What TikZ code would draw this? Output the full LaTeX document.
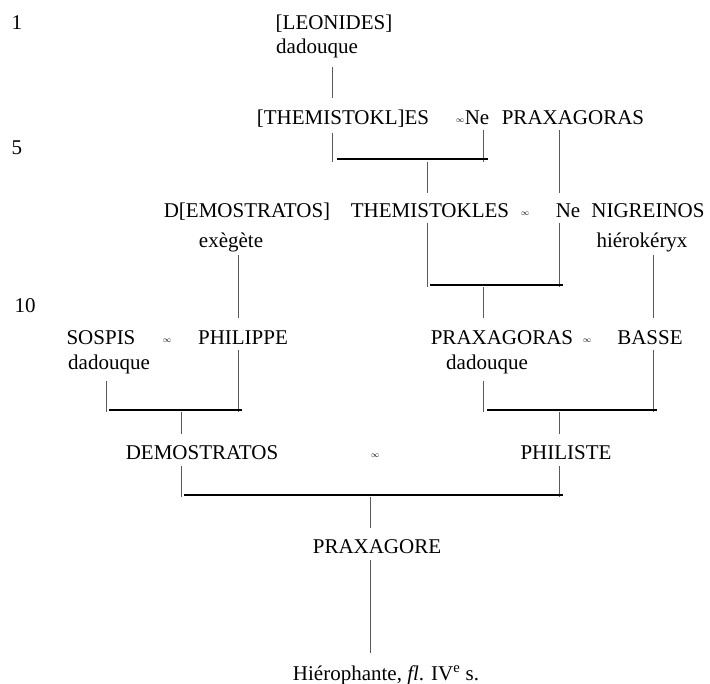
\documentclass[tikz,border=0pt]{standalone}
\usepackage{fontspec}
\setmainfont{Liberation Serif}
\begin{document}
\begin{tikzpicture}[x=1pt,y=-1pt,
  lbl/.style={anchor=base,inner sep=0pt,font=\fontsize{21}{25}\selectfont},
  mar/.style={anchor=base,inner sep=0pt,font=\fontsize{8}{10}\selectfont},
  thin/.style={draw=black!65,line width=1pt},
  bar/.style={draw=black,line width=2.4pt}]
\useasboundingbox (0,0) rectangle (710,684);
% line numbers
\node[lbl] (l1) at (17,30) {1};
\node[lbl] (l5) at (17,155) {5};
\node[lbl] (l10) at (25,313) {10};
% generation 1
\node[lbl] (leon) at (334,30) {[LEONIDES]};
\node[lbl] (leont) at (317,54) {dadouque};
% generation 2
\node[lbl] (them1) at (343,125) {[THEMISTOKL]ES};
\node[mar] (inf1) at (460,123) {$\infty$};
\node[lbl] (ne1) at (477,125) {Ne};
\node[lbl] (prax1) at (573,125) {PRAXAGORAS};
% generation 3
\node[lbl] (demo1) at (247,218) {D[EMOSTRATOS]};
\node[lbl] (demo1t) at (231,248) {exègète};
\node[lbl] (them2) at (430,218) {THEMISTOKLES};
\node[mar] (inf2) at (525,216) {$\infty$};
\node[lbl] (ne2) at (568,218) {Ne};
\node[lbl] (nig) at (648,218) {NIGREINOS};
\node[lbl] (nigt) at (642,248) {hiérokéryx};
% generation 4
\node[lbl] (sos) at (101,345) {SOSPIS};
\node[lbl] (sost) at (109,370) {dadouque};
\node[mar] (inf3) at (167,343) {$\infty$};
\node[lbl] (phil) at (243,345) {PHILIPPE};
\node[lbl] (prax2) at (502,345) {PRAXAGORAS};
\node[lbl] (prax2t) at (487,370) {dadouque};
\node[mar] (inf4) at (587,343) {$\infty$};
\node[lbl] (basse) at (650,345) {BASSE};
% generation 5
\node[lbl] (demo2) at (202,460) {DEMOSTRATOS};
\node[mar] (inf5) at (375,458) {$\infty$};
\node[lbl] (phili) at (566,460) {PHILISTE};
% generation 6
\node[lbl] (praxe) at (377,553) {PRAXAGORE};
\node[lbl] (hier) at (386,680) {Hiérophante, \textit{fl}. IV\textsuperscript{e} s.};
% connector coordinates
\coordinate (a1) at (332,67);  \coordinate (a2) at (332,98);
\coordinate (b1) at (332,133); \coordinate (b2) at (332,162);
\coordinate (c1) at (483,130); \coordinate (c2) at (483,162);
\coordinate (d1) at (337,159); \coordinate (d2) at (488,159);
\coordinate (e1) at (427,162); \coordinate (e2) at (427,193);
\coordinate (f1) at (559,130); \coordinate (f2) at (559,193);
\coordinate (g1) at (238,255); \coordinate (g2) at (238,318);
\coordinate (h1) at (427,223); \coordinate (h2) at (427,287);
\coordinate (i1) at (559,223); \coordinate (i2) at (559,287);
\coordinate (j1) at (430,285); \coordinate (j2) at (563,285);
\coordinate (k1) at (483,287); \coordinate (k2) at (483,318);
\coordinate (m1) at (653,255); \coordinate (m2) at (653,318);
\coordinate (n1) at (106,381); \coordinate (n2) at (106,412);
\coordinate (o1) at (238,350); \coordinate (o2) at (238,412);
\coordinate (p1) at (109,410); \coordinate (p2) at (242,410);
\coordinate (q1) at (181,412); \coordinate (q2) at (181,434);
\coordinate (r1) at (483,381); \coordinate (r2) at (483,412);
\coordinate (s1) at (653,350); \coordinate (s2) at (653,412);
\coordinate (t1) at (487,410); \coordinate (t2) at (657,410);
\coordinate (u1) at (559,412); \coordinate (u2) at (559,434);
\coordinate (v1) at (181,466); \coordinate (v2) at (181,497);
\coordinate (w1) at (559,466); \coordinate (w2) at (559,497);
\coordinate (x1) at (184,495); \coordinate (x2) at (563,495);
\coordinate (y1) at (370,497); \coordinate (y2) at (370,528);
\coordinate (z1) at (370,560); \coordinate (z2) at (370,653);
\foreach \p in {a,b,c,e,f,g,h,i,k,m,n,o,q,r,s,u,v,w,y,z}
  \draw[thin] (\p1) -- (\p2);
\foreach \p in {d,j,p,t,x}
  \draw[bar] (\p1) -- (\p2);
\end{tikzpicture}
\end{document}
